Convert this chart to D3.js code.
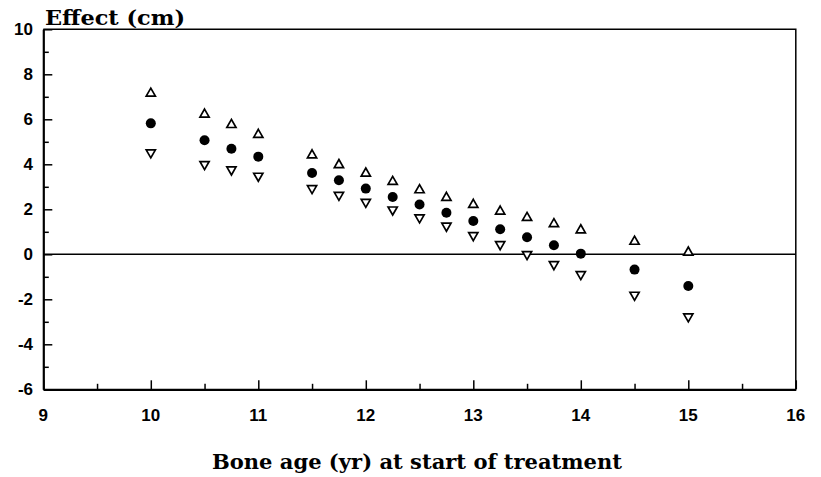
<!DOCTYPE html>
<html>
<head>
<meta charset="utf-8">
<script src="https://cdn.jsdelivr.net/npm/d3@7"></script>
<style>
  body { margin: 0; background: #fff; }
  svg { display: block; }
</style>
</head>
<body>
<div id="chart"></div>
<script>
// 데이터
const boneAge = [10, 10.5, 10.75, 11, 11.5, 11.75, 12, 12.25, 12.5, 12.75, 13, 13.25, 13.5, 13.75, 14, 14.5, 15];
const effect = [5.82, 5.07, 4.69, 4.34, 3.61, 3.29, 2.92, 2.55, 2.21, 1.85, 1.48, 1.11, 0.76, 0.4, 0.03, -0.68, -1.41];
const upper = [7.18, 6.25, 5.79, 5.35, 4.44, 4.01, 3.63, 3.26, 2.89, 2.55, 2.24, 1.94, 1.66, 1.38, 1.11, 0.6, 0.12];
const lower = [4.49, 3.97, 3.73, 3.45, 2.9, 2.6, 2.29, 1.95, 1.6, 1.23, 0.81, 0.41, -0.03, -0.48, -0.92, -1.84, -2.8];
const xTicks = [9, 10, 11, 12, 13, 14, 15, 16];
const yTicks = [-6, -4, -2, 0, 2, 4, 6, 8, 10];

const width = 821, height = 477;
const plotLeft = 43.3, plotRight = 795.8, plotTop = 29.3, plotBottom = 389.3;

const svg = d3.select('#chart')
    .append('svg')
    .attr('width', width)
    .attr('height', height);

const x = d3.scaleLinear().domain([9, 16]).range([plotLeft, plotRight]);
const y = d3.scaleLinear().domain([-6, 10]).range([plotBottom, plotTop]);

// 테두리 (위, 오른쪽)
svg.append('path')
    .attr('d', `M${plotLeft},${plotTop}H${plotRight}V${plotBottom}`)
    .attr('fill', 'none')
    .attr('stroke', '#000')
    .attr('stroke-width', 1.5);

// 0 기준선
svg.append('line')
    .attr('x1', plotLeft).attr('x2', plotRight)
    .attr('y1', y(0)).attr('y2', y(0))
    .attr('stroke', '#000')
    .attr('stroke-width', 1.6);

// x 축 (눈금은 안쪽)
const xAxis = svg.append('g')
    .attr('transform', `translate(0,${plotBottom})`)
    .call(d3.axisBottom(x).tickValues(d3.range(9, 16.01, 0.5))
        .tickSize(-5).tickSizeOuter(0).tickFormat(''));
xAxis.selectAll('.tick line')
    .attr('y2', d => Number.isInteger(d) ? -9 : -5.5)
    .attr('stroke-width', 1.5);
xAxis.select('.domain').attr('stroke-width', 2.2);

// y 축 (눈금은 안쪽)
const yAxis = svg.append('g')
    .attr('transform', `translate(${plotLeft},0)`)
    .call(d3.axisLeft(y).ticks(16).tickSize(-5).tickSizeOuter(0).tickFormat(''));
yAxis.selectAll('.tick line')
    .attr('x2', d => d % 2 === 0 ? 9 : 5.5)
    .attr('stroke-width', 1.5);
yAxis.select('.domain').attr('stroke-width', 2.2);

// 눈금 레이블
svg.selectAll('.xlabel')
    .data(xTicks)
    .enter().append('text')
    .attr('x', d => x(d))
    .attr('y', plotBottom + 32)
    .attr('text-anchor', 'middle')
    .attr('font-family', "'Liberation Sans', Arial, sans-serif")
    .attr('font-weight', 'bold')
    .attr('font-size', '17px')
    .text(d => d);

svg.selectAll('.ylabel')
    .data(yTicks)
    .enter().append('text')
    .attr('x', 33)
    .attr('y', d => y(d) + 6)
    .attr('text-anchor', 'end')
    .attr('font-family', "'Liberation Sans', Arial, sans-serif")
    .attr('font-weight', 'bold')
    .attr('font-size', '17px')
    .text(d => d);

// 축 제목
svg.append('text')
    .attr('x', 45)
    .attr('y', 25)
    .attr('font-family', "'DejaVu Serif', serif")
    .attr('font-weight', 'bold')
    .attr('font-size', '21px')
    .attr('textLength', 140)
    .attr('lengthAdjust', 'spacingAndGlyphs')
    .text('Effect (cm)');

svg.append('text')
    .attr('x', 417)
    .attr('y', 469)
    .attr('text-anchor', 'middle')
    .attr('font-family', "'DejaVu Serif', serif")
    .attr('font-weight', 'bold')
    .attr('font-size', '20px')
    .attr('textLength', 410)
    .attr('lengthAdjust', 'spacingAndGlyphs')
    .text('Bone age (yr) at start of treatment');

// 점 표시
const tri = 4.6;
const upPath = `M0,${-tri}L${tri},${tri * 0.75}L${-tri},${tri * 0.75}Z`;
const downPath = `M0,${tri}L${tri},${-tri * 0.75}L${-tri},${-tri * 0.75}Z`;

svg.selectAll('.upper')
    .data(boneAge)
    .enter().append('path')
    .attr('transform', (d, i) => `translate(${x(d)},${y(upper[i])})`)
    .attr('d', upPath)
    .attr('fill', '#fff')
    .attr('stroke', '#000')
    .attr('stroke-width', 1.7);

svg.selectAll('.lower')
    .data(boneAge)
    .enter().append('path')
    .attr('transform', (d, i) => `translate(${x(d)},${y(lower[i])})`)
    .attr('d', downPath)
    .attr('fill', '#fff')
    .attr('stroke', '#000')
    .attr('stroke-width', 1.7);

svg.selectAll('.effect')
    .data(boneAge)
    .enter().append('circle')
    .attr('cx', d => x(d))
    .attr('cy', (d, i) => y(effect[i]))
    .attr('r', 5)
    .attr('fill', '#000');
</script>
</body>
</html>
